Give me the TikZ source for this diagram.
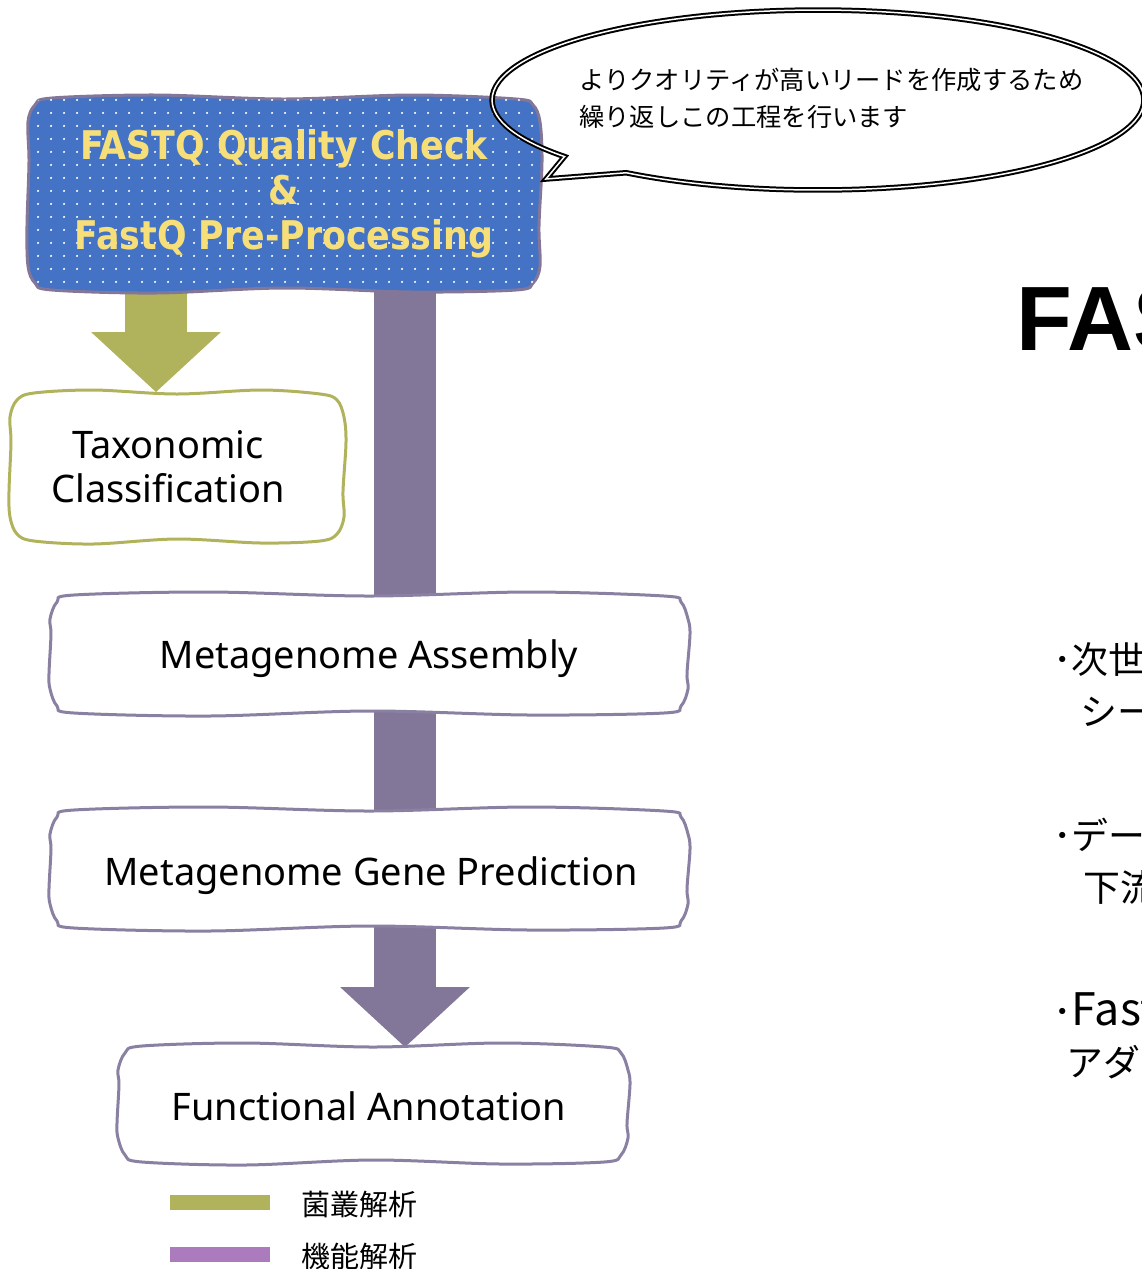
\documentclass[tikz,border=0pt]{standalone}
\usepackage{fontspec}
\setmainfont{Noto Sans}
\newfontfamily\jpfont{Noto Sans CJK JP}
\newfontfamily\boldsans{DejaVu Sans}[FakeStretch=0.88]
\newfontfamily\arialfam{Liberation Sans}
\usetikzlibrary{patterns.meta,shapes.callouts,arrows.meta}
\definecolor{boxblue}{HTML}{4472C4}
\definecolor{txtyellow}{HTML}{F6DE78}
\definecolor{shaftpurple}{HTML}{837799}
\definecolor{edgepurple}{HTML}{8A80A2}
\definecolor{olivec}{HTML}{B0B35C}
\definecolor{legpurple}{HTML}{AB7BBD}
\pgfdeclarelayer{bg}
\pgfdeclarelayer{mid}
\pgfsetlayers{bg,mid,main}
\tikzset{
  boxtext/.style={align=center, inner sep=0pt, font=\fontsize{21.6}{25}\selectfont},
  shaft/.style={line width=1.26cm, draw=#1, -{Triangle[width=2.52cm,length=1.2cm,fill=#1]}},
  bar/.style={line width=1.26cm, draw=#1},
  legbar/.style={fill=#1, minimum width=2cm, minimum height=0.3cm, inner sep=0pt},
  jptext/.style={font=\jpfont\fontsize{#1}{#1}\selectfont, inner sep=0pt, anchor=west},
  wavyline/.style={line width=0.06cm, draw=edgepurple, fill=white}
}
% #1 extra style, #2 node name, #3 half width, #4 half height
\newcommand\wavyshape[4][]{%
\begin{pgfonlayer}{mid}
\begin{scope}[shift={(#2.center)}]
\path[wavyline,#1] plot[smooth cycle, tension=0.55] coordinates {
 ({-#3+24},{-#4}) ({-#3/2},{-#4-3}) (0,{-#4+1}) ({#3/2},{-#4-3}) ({#3-24},{-#4+1})
 ({#3-7},{-#4+7}) ({#3},{-#4+24}) ({#3+2},{-#4/3}) ({#3-1},{#4/3}) ({#3},{#4-24})
 ({#3-7},{#4-7}) ({#3-24},{#4}) ({#3/2},{#4+2}) (0,{#4-2}) ({-#3/2},{#4+3}) ({-#3+24},{#4})
 ({-#3+7},{#4-7}) ({-#3},{#4-24}) ({-#3-1},{#4/3}) ({-#3+1},{-#4/3}) ({-#3},{-#4+24})
 ({-#3+7},{-#4+7})
};
\end{scope}
\end{pgfonlayer}}
\begin{document}
\begin{tikzpicture}[x=0.02cm, y=-0.02cm]
\useasboundingbox (0,0) rectangle (1142,1269);
\clip (0,0) rectangle (1142,1269);
% boxes
\node[boxtext, minimum width=10.24cm, minimum height=3.86cm, text=txtyellow,
  font=\boldsans\bfseries\fontsize{22.5}{25.5}\selectfont] (top) at (284,194)
  {FASTQ Quality Check\\\&\\FastQ Pre-Processing};
\wavyshape[draw=shaftpurple, fill=boxblue, postaction={pattern={Dots[distance=7.4pt, radius=0.7pt]}, pattern color=white}]{top}{256}{96}
\node[boxtext, minimum width=6.7cm, minimum height=2.98cm] (tax) at (168,467) {Taxonomic\\Classification};
\wavyshape[draw=olivec, xshift=0.18cm]{tax}{167}{74}
\node[boxtext, minimum width=12.76cm, minimum height=2.36cm] (asm) at (369,659) {Metagenome Assembly};
\wavyshape[yshift=0.1cm]{asm}{319}{59}
\node[boxtext, minimum width=12.76cm, minimum height=2.36cm] (gene) at (371,876) {Metagenome Gene Prediction};
\wavyshape[yshift=0.14cm, xshift=-0.04cm]{gene}{319}{59}
\node[boxtext, minimum width=10.2cm, minimum height=2.34cm] (func) at (369,1106) {Functional Annotation};
\wavyshape[yshift=0.04cm, xshift=0.08cm]{func}{255}{58}
% connectors
\coordinate (oc) at (156,0);
\coordinate (pc) at (405,0);
\begin{pgfonlayer}{bg}
\draw[shaft=olivec] (top.center -| oc) -- (tax.north -| oc);
\draw[bar=shaftpurple] (top.center -| pc) -- (asm.center -| pc);
\draw[bar=shaftpurple] (asm.center -| pc) -- (gene.center -| pc);
\draw[shaft=shaftpurple] (gene.center -| pc) -- (func.north -| pc);
\end{pgfonlayer}
% speech bubble
\node[ellipse callout, draw=black, line width=0.04cm, double=white, double distance=0.03cm,
  minimum width=13.04cm, minimum height=3.6cm, callout absolute pointer={(546,179)}] (bubble) at (818,100) {};
\node[font=\jpfont\fontsize{14.4}{21}\selectfont, align=left, anchor=north west, inner sep=0pt] (bubtext) at (579,68)
  {よりクオリティが高いリードを作成するため\\繰り返しこの工程を行います};
% right side (cut off by the edge)
\node[font=\arialfam\bfseries\fontsize{52}{52}\selectfont, anchor=base west, inner sep=0pt] (title) at (1016,350) {FASTQ};
\node[jptext=21] (r1a) at (1053,660) {･次世代};
\node[jptext=21] (r1b) at (1080,712) {シーケンサー};
\node[jptext=21] (r2a) at (1053,835) {･データ};
\node[jptext=21] (r2b) at (1083,887) {下流};
\node[jptext=21] (r3a) at (1053,1013) {･\fontsize{25.5}{25.5}\selectfont FastQ};
\node[jptext=21] (r3b) at (1066,1062) {アダプター};
% legend
\node[legbar=olivec] (leg1) at (220,1202) {};
\node[legbar=legpurple] (leg2) at (220,1254) {};
\node[jptext=16.5] (leg1t) at (301,1204) {菌叢解析};
\node[jptext=16.5] (leg2t) at (301,1256) {機能解析};
\end{tikzpicture}
\end{document}
